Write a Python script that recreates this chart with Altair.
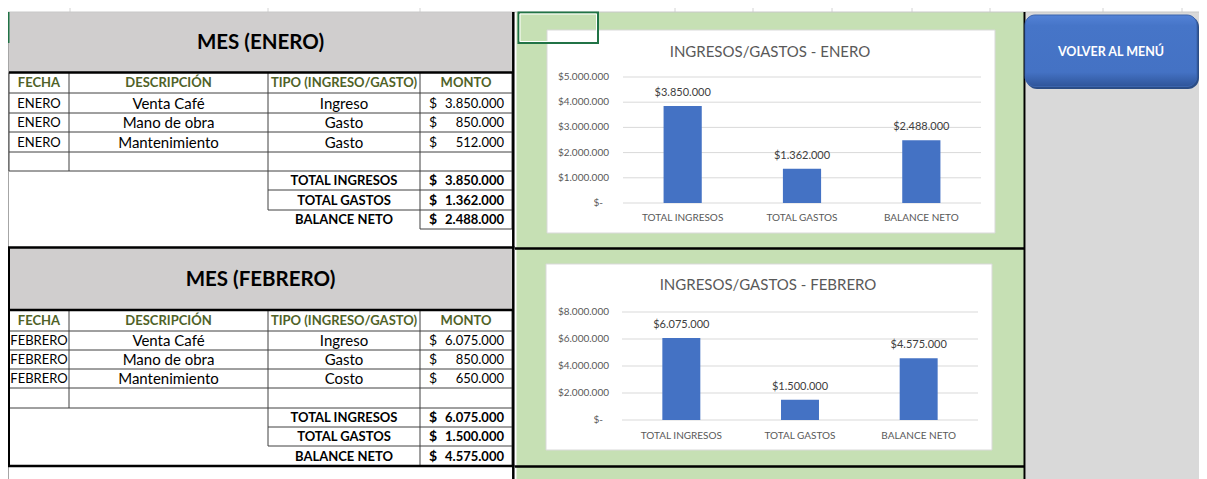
import altair as alt
import pandas as pd

# ---------------- data ----------------
meses = ["ENERO", "FEBRERO"]
encabezados = ["FECHA", "DESCRIPCIÓN", "TIPO (INGRESO/GASTO)", "MONTO"]
descripciones = ["Venta Café", "Mano de obra", "Mantenimiento"]
tipos_enero = ["Ingreso", "Gasto", "Gasto"]
tipos_febrero = ["Ingreso", "Gasto", "Costo"]
montos_enero = [3850000, 850000, 512000]
montos_febrero = [6075000, 850000, 650000]
conceptos = ["TOTAL INGRESOS", "TOTAL GASTOS", "BALANCE NETO"]
totales_enero = [3850000, 1362000, 2488000]
totales_febrero = [6075000, 1500000, 4575000]
ticks_enero = [0, 1000000, 2000000, 3000000, 4000000, 5000000]
ticks_febrero = [0, 2000000, 4000000, 6000000, 8000000]
titulos_graficos = ["INGRESOS/GASTOS - ENERO", "INGRESOS/GASTOS - FEBRERO"]
texto_boton = "VOLVER AL MENÚ"

# ---------------- layout (page pixel coordinates) ----------------
W, H = 1191, 471
OX, OY = 8, 8
FONT = "Lato"
COLS = [9, 69, 268, 420, 512]
X_SIGNO, X_MONTO = 429, 504

XS = alt.Scale(domain=[OX, OX + W], range=[0, W], nice=False, zero=False)
YS = alt.Scale(domain=[OY, OY + H], range=[0, H], nice=False, zero=False)


def fmt(v):
    return f"{v:,}".replace(",", ".")


def mid(a, b):
    return (a + b) / 2


def rects(rows, **mark):
    df = pd.DataFrame(rows, columns=["x0", "x1", "y0", "y1"])
    return alt.Chart(df).mark_rect(**mark).encode(
        x=alt.X("x0:Q", scale=XS, axis=None), x2="x1:Q",
        y=alt.Y("y0:Q", scale=YS, axis=None), y2="y1:Q")


def lines(rows, color, width):
    df = pd.DataFrame(rows, columns=["x0", "x1", "y0", "y1"])
    return alt.Chart(df).mark_rule(color=color, strokeWidth=width).encode(
        x=alt.X("x0:Q", scale=XS, axis=None), x2="x1:Q",
        y=alt.Y("y0:Q", scale=YS, axis=None), y2="y1:Q")


STYLES = {
    "titulo": dict(fontSize=20.5, fontWeight="bold", color="#000000", align="center"),
    "encabezado": dict(fontSize=13, fontWeight="bold", color="#4F6228", align="center"),
    "fecha": dict(fontSize=13, color="#000000", align="center"),
    "celda": dict(fontSize=15, color="#000000", align="center"),
    "signo": dict(fontSize=14, color="#000000", align="left"),
    "monto": dict(fontSize=13, color="#000000", align="right"),
    "total": dict(fontSize=13, fontWeight="bold", color="#000000", align="center"),
    "signo_b": dict(fontSize=14, fontWeight="bold", color="#000000", align="left"),
    "monto_b": dict(fontSize=13, fontWeight="bold", color="#000000", align="right"),
    "grafico": dict(fontSize=15, color="#595959", align="center"),
    "boton": dict(fontSize=12.5, fontWeight="bold", color="#ffffff", align="center"),
}
texts = {k: [] for k in STYLES}

TABLAS = [
    dict(mes=meses[0], tipos=tipos_enero, montos=montos_enero, totales=totales_enero,
         titulo=(12, 72.5), filas=[72.5, 93, 113, 132, 152, 171], tot=[171, 190, 210, 229]),
    dict(mes=meses[1], tipos=tipos_febrero, montos=montos_febrero, totales=totales_febrero,
         titulo=(248, 310), filas=[310, 331, 350, 369, 388, 408], tot=[408, 427, 446, 466]),
]

bg_rects = []
thin = []
thick = []
for t in TABLAS:
    y0, y1 = t["titulo"]
    f = t["filas"]
    tt = t["tot"]
    bg_rects.append((COLS[0], COLS[-1], y0, y1))
    texts["titulo"].append((mid(COLS[0], COLS[-1]), mid(y0, y1) + 1, f"MES ({t['mes']})"))
    for c, h in enumerate(encabezados):
        texts["encabezado"].append((mid(COLS[c], COLS[c + 1]), mid(f[0], f[1]) + 0.5, h))
    for i in range(3):
        y = mid(f[i + 1], f[i + 2]) + 0.5
        texts["fecha"].append((mid(COLS[0], COLS[1]), y, t["mes"]))
        texts["celda"].append((mid(COLS[1], COLS[2]), y, descripciones[i]))
        texts["celda"].append((mid(COLS[2], COLS[3]), y, t["tipos"][i]))
        texts["signo"].append((X_SIGNO, y, "$"))
        texts["monto"].append((X_MONTO, y, fmt(t["montos"][i])))
    for j in range(3):
        y = mid(tt[j], tt[j + 1]) + 0.5
        texts["total"].append((mid(COLS[2], COLS[3]), y, conceptos[j]))
        texts["signo_b"].append((X_SIGNO, y, "$"))
        texts["monto_b"].append((X_MONTO, y, fmt(t["totales"][j])))
    for y in f[1:]:
        thin.append((COLS[0], COLS[-1], y, y))
    for x in COLS:
        thin.append((x, x, f[0], f[-1]))
    thin.append((COLS[2], COLS[-1], tt[1], tt[1]))
    thin.append((COLS[2], COLS[-1], tt[2], tt[2]))
    thin.append((COLS[3], COLS[-1], tt[3], tt[3]))
    thin.append((COLS[2], COLS[2], tt[0], tt[2]))
    thin.append((COLS[3], COLS[3], tt[0], tt[3]))
    thin.append((COLS[4], COLS[4], tt[0], tt[3]))
    thick.append((COLS[0], 513, y1, y1))

thick += [(8, 514.5, 247.5, 247.5), (8, 514.5, 466, 466), (513.3, 513.3, 12, 479)]

texts["grafico"] += [(770, 52, titulos_graficos[0]), (768, 285, titulos_graficos[1])]
texts["boton"].append((1111, 52, texto_boton))

grid_x = [70, 268, 420, 675, 753, 832, 912, 990, 1103, 1182]

decor = [
    rects([(OX, OX + W, OY, OY + H)], color="#ffffff"),
    rects([(516.5, 1024, 12, 479)], color="#c6e0b4"),
    rects([(1025.5, 1207, 12, 479)], color="#d9d9d9"),
    rects(bg_rects, color="#d0cece"),
    rects([(547, 995, 30, 233), (546, 992, 264, 450)], color="#ffffff",
          stroke="#d9d9d9", strokeWidth=1),
    lines([(x, x, OY, 12) for x in grid_x], "#d4d4d4", 1),
    lines([(OX, OX + W, 12, 12)], "#c8c8c8", 1),
    lines([(8.5, 8.5, 12, 479)], "#a6a6a6", 1),
    lines(thin, "#404040", 1),
    lines(thick, "#000000", 2.5),
    lines([(9, 9, 248, 466)], "#000000", 2),
    lines([(515, 1025, 248.5, 248.5), (515, 1025, 466.5, 466.5)], "#000000", 2.5),
    lines([(1024.5, 1024.5, 12, 479)], "#000000", 2),
    lines([(8.5, 8.5, 12, 43)], "#217346", 2),
    rects([(518.5, 598, 12.5, 43)], fillOpacity=0, stroke="#217346", strokeWidth=2),
    rects([(520, 596.5, 14, 41.5)], fillOpacity=0, stroke="#ffffff", strokeWidth=1),
    rects([(1026, 1199, 16, 89)], color="#2b4d86", cornerRadius=11),
    rects([(1025, 1197, 15, 86.5)], cornerRadius=10, stroke="#3b64ad", strokeWidth=1,
          fill=alt.Gradient(gradient="linear", x1=0, y1=0, x2=0, y2=1, stops=[
              alt.GradientStop(offset=0, color="#5382d6"),
              alt.GradientStop(offset=0.15, color="#4675c8"),
              alt.GradientStop(offset=0.8, color="#4472c4"),
              alt.GradientStop(offset=1, color="#2f559a")])),
]

for k, recs in texts.items():
    df = pd.DataFrame(recs, columns=["x", "y", "t"])
    decor.append(alt.Chart(df).mark_text(baseline="middle", font=FONT, **STYLES[k]).encode(
        x=alt.X("x:Q", scale=XS, axis=None), y=alt.Y("y:Q", scale=YS, axis=None),
        text="t:N"))

decor_layer = alt.layer(*decor)


def grafico(totales, ticks, band, yr, x_ticklab, cat_y):
    df = pd.DataFrame({"cat": conceptos, "val": totales,
                       "lab": ["$" + fmt(v) for v in totales]})
    tk = pd.DataFrame({"v": ticks, "lab": ["$-" if v == 0 else "$" + fmt(v) for v in ticks]})
    xs = alt.Scale(domain=conceptos, range=[band[0] - OX, band[1] - OX],
                   paddingInner=0.68, paddingOuter=0.34)
    ys = alt.Scale(domain=[0, ticks[-1]], range=[yr[0] - OY, yr[1] - OY], nice=False)
    X = alt.X("cat:N", scale=xs, axis=None, sort=conceptos)
    grid = alt.Chart(tk).mark_rule(color="#d9d9d9", strokeWidth=1).encode(
        x=alt.value(band[0] - OX), x2=alt.value(band[1] - OX),
        y=alt.Y("v:Q", scale=ys, axis=None))
    bars = alt.Chart(df).mark_bar(color="#4472c4").encode(
        x=X, y=alt.Y("val:Q", scale=ys, axis=None))
    vlab = alt.Chart(df).mark_text(dy=-13, fontSize=11, color="#404040", font=FONT).encode(
        x=X, y=alt.Y("val:Q", scale=ys, axis=None), text="lab:N")
    tlab = alt.Chart(tk).transform_filter("datum.v > 0").mark_text(
        align="right", baseline="middle", fontSize=10, color="#595959", font=FONT).encode(
        x=alt.value(x_ticklab - OX), y=alt.Y("v:Q", scale=ys, axis=None), text="lab:N")
    zlab = alt.Chart(tk).transform_filter("datum.v == 0").mark_text(
        align="right", baseline="middle", fontSize=10, color="#595959", font=FONT).encode(
        x=alt.value(x_ticklab - 6 - OX), y=alt.Y("v:Q", scale=ys, axis=None), text="lab:N")
    clab = alt.Chart(df).mark_text(baseline="middle", fontSize=10, color="#595959",
                                   font=FONT).encode(
        x=X, y=alt.value(cat_y - OY), text="cat:N")
    return alt.layer(grid, bars, vlab, tlab, zlab, clab)


g1 = grafico(totales_enero, ticks_enero, (623, 981), (203, 77), 609, 218)
g2 = grafico(totales_febrero, ticks_febrero, (622, 978), (420, 312), 609, 436)

chart = alt.layer(decor_layer, g1, g2).resolve_scale(
    x="independent", y="independent"
).properties(
    width=W, height=H, padding=0, autosize=alt.AutoSizeParams(type="none")
).configure_view(stroke=None).configure(background="#ffffff")

chart.save("out.html", embed_options={"renderer": "svg", "actions": False})
